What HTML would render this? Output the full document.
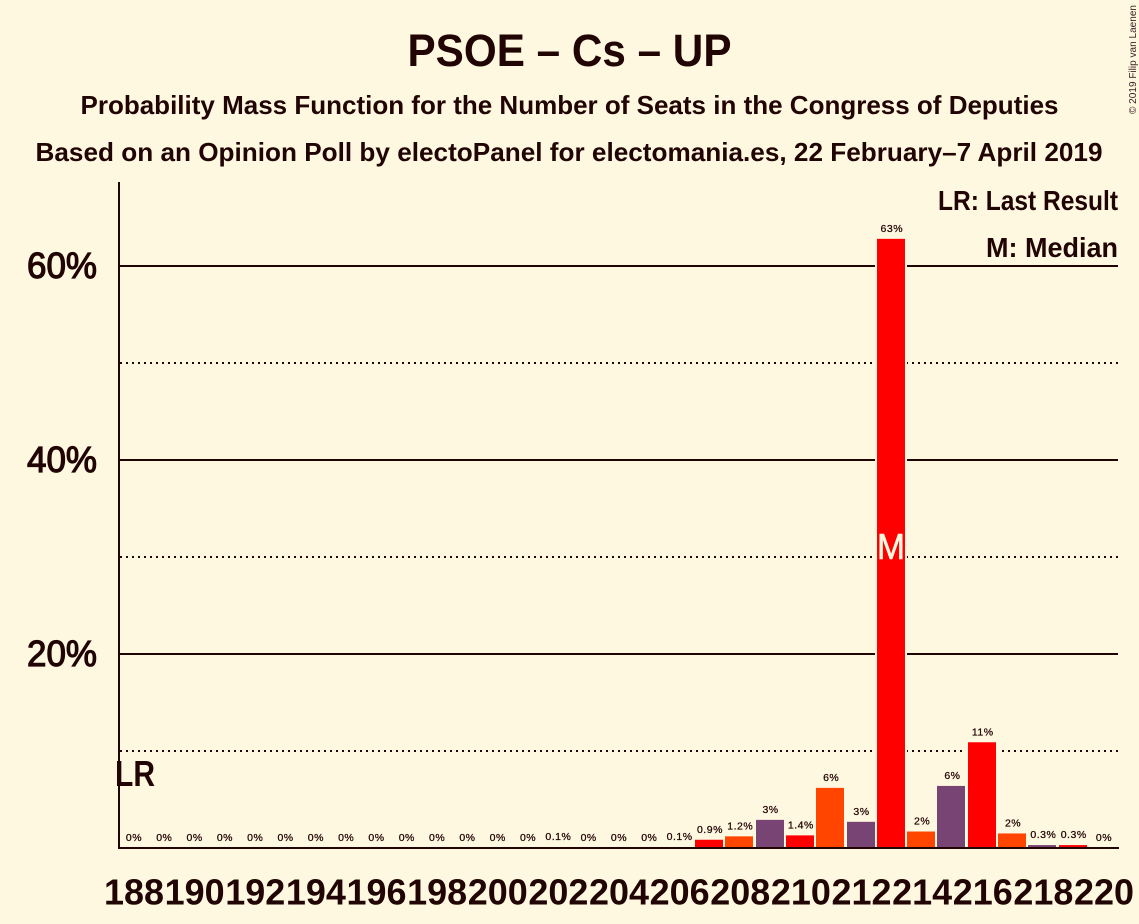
<!DOCTYPE html>
<html lang="en">
<head>
<meta charset="utf-8">
<title>PSOE – Cs – UP</title>
<style>
html,body{margin:0;padding:0;background:#fff8e1;}
svg{display:block;}
text{font-family:"Liberation Sans",sans-serif;font-weight:bold;fill:#210404;}
</style>
</head>
<body>
<svg id="chart" xmlns="http://www.w3.org/2000/svg" width="1139" height="924" viewBox="0 0 1139 924">
  <rect x="0" y="0" width="1139" height="924" fill="#fff8e1"/>
  <text x="569.5" y="66" font-size="45" text-anchor="middle" textLength="324" lengthAdjust="spacingAndGlyphs">PSOE – Cs – UP</text>
  <text x="569.5" y="114" font-size="26" text-anchor="middle" textLength="978" lengthAdjust="spacingAndGlyphs">Probability Mass Function for the Number of Seats in the Congress of Deputies</text>
  <text x="569" y="161" font-size="26" text-anchor="middle" textLength="1067" lengthAdjust="spacingAndGlyphs">Based on an Opinion Poll by electoPanel for electomania.es, 22 February–7 April 2019</text>
  <text transform="translate(1136,114) rotate(-90)" font-size="10" textLength="109" lengthAdjust="spacingAndGlyphs" style="font-weight:normal;fill:#3a2020">© 2019 Filip van Laenen</text>
  <g id="grid"></g>
  <g id="yticks"></g>
  <g id="halos"></g>
  <g id="bars"></g>
  <g id="values"></g>
  <g id="xticks"></g>
  <line x1="119" y1="182" x2="119" y2="849" stroke="#210404" stroke-width="2"/>
  <line x1="118" y1="848" x2="1119" y2="848" stroke="#210404" stroke-width="2"/>
  <text x="115" y="786" font-size="36" textLength="40" lengthAdjust="spacingAndGlyphs">LR</text>
  <text x="891" y="559" font-size="36" text-anchor="middle" textLength="28" lengthAdjust="spacingAndGlyphs" style="font-weight:normal;fill:#fff8e1;stroke:#fff8e1;stroke-width:0.6">M</text>
  <text x="1118" y="210" font-size="28" text-anchor="end" textLength="180" lengthAdjust="spacingAndGlyphs">LR: Last Result</text>
  <text x="1118" y="257" font-size="28" text-anchor="end" textLength="132" lengthAdjust="spacingAndGlyphs">M: Median</text>
</svg>
<script>
const seats = [188,189,190,191,192,193,194,195,196,197,198,199,200,201,202,203,204,205,206,207,208,209,210,211,212,213,214,215,216,217,218,219,220];
const probabilities = [0,0,0,0,0,0,0,0,0,0,0,0,0,0,0.1,0,0,0,0.1,0.85,1.2,2.9,1.3,6.2,2.7,62.8,1.7,6.4,10.9,1.5,0.3,0.3,0];
const printedValues = ["0%","0%","0%","0%","0%","0%","0%","0%","0%","0%","0%","0%","0%","0%","0.1%","0%","0%","0%","0.1%","0.9%","1.2%","3%","1.4%","6%","3%","63%","2%","6%","11%","2%","0.3%","0.3%","0%"];
const seriesColors = ["#ff0000","#ff4500","#774474"];
const firstColoredSeat = 207;
const majorTicks = [20,40,60];
const minorTicks = [10,30,50];
const xTickSeats = [188,190,192,194,196,198,200,202,204,206,208,210,212,214,216,218,220];
const NS = "http://www.w3.org/2000/svg";
const xScale = s => 134 + (s - 188) * (970 / 32);
const yScale = v => 848 - v * 9.7;
const BAR_W = 28;
const grid = document.getElementById("grid");
const yticks = document.getElementById("yticks");
const halos = document.getElementById("halos");
const bars = document.getElementById("bars");
const values = document.getElementById("values");
const xticks = document.getElementById("xticks");

majorTicks.forEach(v => {
  const l = document.createElementNS(NS, "line");
  
  
  l.setAttribute("x1", 119);
  l.setAttribute("x2", 1118);
  l.setAttribute("y1", yScale(v));
  l.setAttribute("y2", yScale(v));
  l.setAttribute("stroke", "#210404");
  l.setAttribute("stroke-width", "2");
  grid.appendChild(l);
  const t = document.createElementNS(NS, "text");
  
  
  t.setAttribute("x", 97);
  t.setAttribute("y", yScale(v) + 12);
  t.setAttribute("font-size", "36");
  t.setAttribute("text-anchor", "end");
  t.setAttribute("textLength", "70");
  t.setAttribute("lengthAdjust", "spacingAndGlyphs");
  t.style.fontWeight = "normal";
  t.style.stroke = "#210404";
  t.style.strokeWidth = "1.2";
  t.textContent = v + "%";
  yticks.appendChild(t);
});

minorTicks.forEach(v => {
  const l = document.createElementNS(NS, "line");
  
  
  l.setAttribute("x1", 120);
  l.setAttribute("x2", 1118);
  l.setAttribute("y1", yScale(v));
  l.setAttribute("y2", yScale(v));
  l.setAttribute("stroke", "#210404");
  l.setAttribute("stroke-width", "2");
  l.setAttribute("stroke-dasharray", "2 4");
  grid.appendChild(l);
});

seats.forEach((s, i) => {
  const v = probabilities[i];
  const top = yScale(v);
  const cx = xScale(s);
  if (v > 0) {
    const h = document.createElementNS(NS, "rect");
    
    
    h.setAttribute("x", Math.round(cx - 1 - BAR_W / 2) - 2);
    h.setAttribute("y", top - 2);
    h.setAttribute("width", BAR_W + 4);
    h.setAttribute("height", 848 - top + 2);
    h.setAttribute("fill", "#fff8e1");
    halos.appendChild(h);
    const b = document.createElementNS(NS, "rect");
    
    
    b.setAttribute("x", Math.round(cx - 1 - BAR_W / 2));
    b.setAttribute("y", top);
    b.setAttribute("width", BAR_W);
    b.setAttribute("height", 848 - top);
    const idx = ((s - firstColoredSeat) % 3 + 3) % 3;
    b.setAttribute("fill", seriesColors[idx]);
    bars.appendChild(b);
  }
  const t = document.createElementNS(NS, "text");
  
  
  t.setAttribute("x", cx);
  t.setAttribute("y", top - 7);
  t.setAttribute("font-size", "10.5");
  t.setAttribute("text-anchor", "middle");
  t.style.letterSpacing = "0.5px";
  t.style.fontWeight = "normal";
  t.style.fill = "#210404";
  t.style.stroke = "#210404";
  t.style.strokeWidth = "0.25";
  t.textContent = printedValues[i];
  values.appendChild(t);
});

xTickSeats.forEach(s => {
  const t = document.createElementNS(NS, "text");
  
  
  t.setAttribute("x", xScale(s));
  t.setAttribute("y", 904.5);
  t.setAttribute("font-size", "36");
  t.setAttribute("text-anchor", "middle");
  t.setAttribute("textLength", "60");
  t.setAttribute("lengthAdjust", "spacingAndGlyphs");
  t.textContent = s;
  xticks.appendChild(t);
});
</script>
</body>
</html>
